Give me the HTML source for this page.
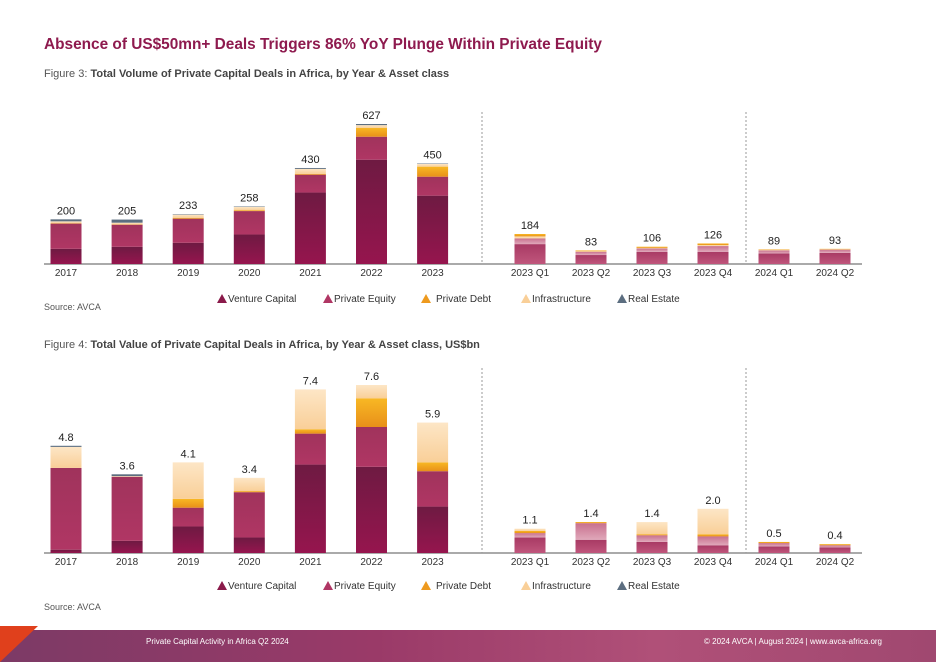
<!DOCTYPE html>
<html><head><meta charset="utf-8">
<style>
body{margin:0;width:936px;height:662px;background:#fff;font-family:"Liberation Sans",sans-serif;position:relative;overflow:hidden}
.t{position:absolute;white-space:nowrap}
</style></head>
<body>
<div class="t" style="left:44px;top:36px;font-size:15.4px;font-weight:bold;color:#8e1a4e">Absence of US$50mn+ Deals Triggers 86% YoY Plunge Within Private Equity</div>
<div class="t" style="left:44px;top:68px;font-size:11px;color:#555">Figure 3: <b style="color:#444">Total Volume of Private Capital Deals in Africa, by Year &amp; Asset class</b></div>
<div class="t" style="left:44px;top:339px;font-size:11px;color:#555">Figure 4: <b style="color:#444">Total Value of Private Capital Deals in Africa, by Year &amp; Asset class, US$bn</b></div>
<div class="t" style="left:44px;top:302px;font-size:9px;color:#555">Source: AVCA</div>
<div class="t" style="left:44px;top:602px;font-size:9px;color:#555">Source: AVCA</div>
<div style="position:absolute;left:0;top:630px;width:936px;height:32px;background:linear-gradient(90deg,#7c3a66,#9a3a68 40%,#b05078 70%,#a04870)"></div>
<div style="position:absolute;left:0;top:626px;width:0;height:0;border-top:36px solid #e0401c;border-right:38px solid transparent"></div>
<div class="t" style="left:146px;top:637px;font-size:8px;color:#fff">Private Capital Activity in Africa Q2 2024</div>
<div class="t" style="left:704px;top:637px;font-size:8px;color:#fff">© 2024 AVCA | August 2024 | www.avca-africa.org</div>
<svg id="chart" width="936" height="662" style="position:absolute;left:0;top:0">
<defs>
<linearGradient id="gVC" x1="0" y1="0" x2="0" y2="1"><stop offset="0" stop-color="#6e1a42"/><stop offset="1" stop-color="#96154e"/></linearGradient>
<linearGradient id="gPE" x1="0" y1="0" x2="0" y2="1"><stop offset="0" stop-color="#a0335c"/><stop offset="1" stop-color="#b03664"/></linearGradient>
<linearGradient id="gPD" x1="0" y1="0" x2="0" y2="1"><stop offset="0" stop-color="#f8b824"/><stop offset="1" stop-color="#e8901a"/></linearGradient>
<linearGradient id="gIN" x1="0" y1="0" x2="0" y2="1"><stop offset="0" stop-color="#fde6c6"/><stop offset="1" stop-color="#f9cf98"/></linearGradient>
<linearGradient id="qVC" x1="0" y1="0" x2="0" y2="1"><stop offset="0" stop-color="#a83a64"/><stop offset="1" stop-color="#c0567c"/></linearGradient>
<linearGradient id="qPE" x1="0" y1="0" x2="0" y2="1"><stop offset="0" stop-color="#c8708e"/><stop offset="1" stop-color="#e0a8ba"/></linearGradient>
</defs>
</svg>
<script>
const yearCats=["2017","2018","2019","2020","2021","2022","2023"];
const qCats=["2023 Q1","2023 Q2","2023 Q3","2023 Q4","2024 Q1","2024 Q2"];
const series=["Venture Capital","Private Equity","Private Debt","Infrastructure","Real Estate"];
// Volume yearly
const volVC=[68,77,95,132,320,467,306];
const volPE=[113,99,108,105,80,103,85];
const volPD=[2,2,4,4,4,40,45];
const volIN=[8,7,14,15,22,12,12];
const volRE=[9,14,2,2,4,5,2];
const volTotals=[200,205,233,258,430,627,450];
// Volume quarterly
const qvolVC=[122,55,75,75,65,68];
const qvolPE=[35,20,20,35,18,20];
const qvolPD=[15,5,7,10,3,3];
const qvolIN=[12,3,4,6,3,2];
const qvolTotals=[184,83,106,126,89,93];
// Value yearly
const valVC=[0.15,0.55,1.2,0.7,4.0,3.9,2.1];
const valPE=[3.7,2.9,0.85,2.05,1.4,1.8,1.6];
const valPD=[0,0,0.4,0.05,0.2,1.3,0.4];
const valIN=[0.95,0.03,1.65,0.6,1.8,0.6,1.8];
const valRE=[0.05,0.08,0,0,0,0,0];
const valTotals=["4.8","3.6","4.1","3.4","7.4","7.6","5.9"];
// Value quarterly
const qvalVC=[0.7,0.6,0.5,0.35,0.3,0.25];
const qvalPE=[0.2,0.75,0.3,0.4,0.15,0.1];
const qvalPD=[0.1,0.05,0.05,0.1,0.05,0.05];
const qvalIN=[0.1,0,0.55,1.15,0,0];
const qvalTotals=["1.1","1.4","1.4","2.0","0.5","0.4"];

const svg=document.getElementById('chart');
const NS='http://www.w3.org/2000/svg';
function mk(tag,attrs){const e=document.createElementNS(NS,tag);for(const k in attrs)e.setAttribute(k,attrs[k]);svg.appendChild(e);return e;}
const yearX=i=>66+i*61.1;
const qX=i=>530+i*61;
const BW=31;
function stack(cx,base,scale,vals,fills,label,nm){
  let y=base;
  vals.forEach((v,k)=>{ if(v<=0)return; const h=v*scale; y-=h;
    const r=mk('rect',{x:cx-BW/2,y:y,width:BW,height:h,fill:fills[k]});
    
    
  });
  const t=mk('text',{x:cx,y:y-5,'text-anchor':'middle','font-size':'11','fill':'#222','font-family':'Liberation Sans, sans-serif'});
  t.textContent=label;
  
  
}
const yF=['url(#gVC)','url(#gPE)','url(#gPD)','url(#gIN)','#5c6e80'];
const qF=['url(#qVC)','url(#qPE)','url(#gPD)','url(#gIN)','#5c6e80'];
function axis(base,top,nm){
  const l=mk('line',{x1:44,y1:base,x2:862,y2:base,stroke:'#555','stroke-width':1});
  
  
  [482,746].forEach(x=>{const d=mk('line',{x1:x,y1:top,x2:x,y2:base,stroke:'#999','stroke-width':1,'stroke-dasharray':'2,2'});
    
    });
  yearCats.forEach((c,i)=>{const t=mk('text',{x:yearX(i),y:base+12,'text-anchor':'middle','font-size':'10','fill':'#333','font-family':'Liberation Sans, sans-serif'});t.textContent=c;
    
    });
  qCats.forEach((c,i)=>{const t=mk('text',{x:qX(i),y:base+12,'text-anchor':'middle','font-size':'10','fill':'#333','font-family':'Liberation Sans, sans-serif'});t.textContent=c;
    
    });
}
function legend(y,nm){
  const cols=['#8a1a4a','#b03664','#ee9a1e','#f9cf98','#5c6e80'];
  const xs=[222,328,426,526,622];
  series.forEach((s,k)=>{
    const p=mk('polygon',{points:`${xs[k]},${y-8} ${xs[k]+5},${y+1} ${xs[k]-5},${y+1}`,fill:cols[k]});
    
    
    const t=mk('text',{x:xs[k]+(k==2?10:6),y:y,'font-size':'10','fill':'#333','font-family':'Liberation Sans, sans-serif'});t.textContent=s;
    
    
  });
}
// Volume chart
const vb=264, vScale=140/627, qvScale=30/184;
axis(vb,112,'volume');
yearCats.forEach((c,i)=>stack(yearX(i),vb,vScale,[volVC[i],volPE[i],volPD[i],volIN[i],volRE[i]],yF,String(volTotals[i]),'volume-bar-'+c));
qCats.forEach((c,i)=>stack(qX(i),vb,qvScale,[qvolVC[i],qvolPE[i],qvolIN[i],qvolPD[i]],[qF[0],qF[1],qF[3],qF[2]],String(qvolTotals[i]),'volume-bar-'+c.replace(' ','-')));
legend(302,'volume');
// Value chart
const ab=553, aScale=168/7.6;
axis(ab,368,'value');
yearCats.forEach((c,i)=>stack(yearX(i),ab,aScale,[valVC[i],valPE[i],valPD[i],valIN[i],valRE[i]],yF,valTotals[i],'value-bar-'+c));
qCats.forEach((c,i)=>stack(qX(i),ab,aScale,[qvalVC[i],qvalPE[i],qvalPD[i],qvalIN[i]],qF,qvalTotals[i],'value-bar-'+c.replace(' ','-')));
legend(589,'value');
</script>
</body></html>
